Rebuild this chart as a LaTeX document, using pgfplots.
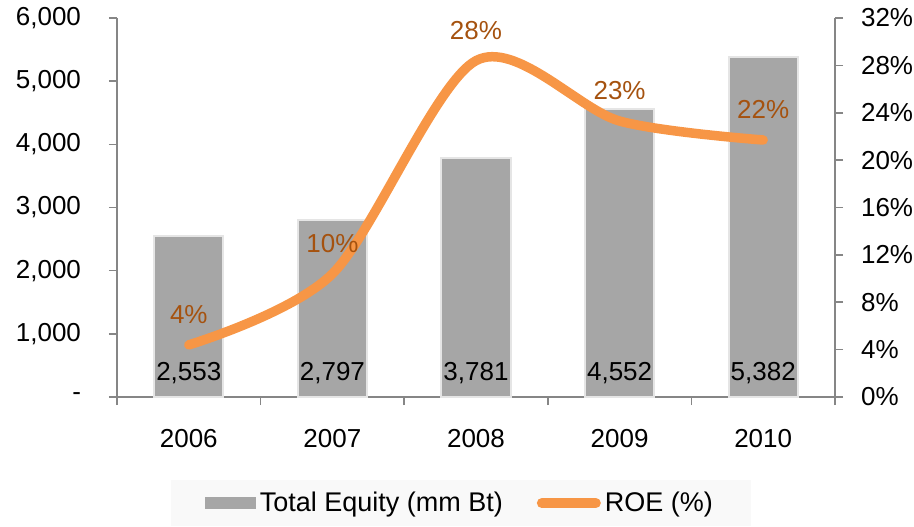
\documentclass[border=0pt]{standalone}
\usepackage{fontspec}
\setmainfont{Liberation Sans}
\usepackage{pgfplots}
\usepackage{pgfplotstable}
\pgfplotsset{compat=1.18}
\definecolor{barGray}{HTML}{A6A6A6}
\definecolor{roeOrange}{HTML}{F79646}
\definecolor{lblBrown}{HTML}{A5520F}
\definecolor{axGray}{HTML}{868686}
\definecolor{legFill}{HTML}{F9F9F9}

\pgfplotstableread{
x equity roe
0 2553 4.4
1 2797 10.4
2 3781 28.4
3 4552 23.3
4 5382 21.7
}\datatable

\newcommand{\chartfont}{\fontsize{13}{15.6}\selectfont}
\newcommand{\legfont}{\fontsize{13.5}{16}\selectfont}

\begin{document}
\begin{tikzpicture}
\useasboundingbox (0,0) rectangle (457pt,263pt);
\pgfplotsset{
  base/.style={
    scale only axis, width=359pt, height=189.5pt,
    at={(58.5pt,64.5pt)}, anchor=south west,
    xmin=-0.5, xmax=4.5,
    tick align=outside,
    axis line style={axGray, line width=0.8pt},
    every tick/.style={axGray, line width=0.8pt},
    major tick length=4pt,
    tick label style={font=\chartfont, black},
    /pgf/number format/assume math mode=true,
  }
}
\begin{axis}[base,
  axis x line*=bottom, axis y line*=left,
  ymin=0, ymax=6000,
  ytick={0,1000,2000,3000,4000,5000,6000},
  yticklabels={-,{1,000},{2,000},{3,000},{4,000},{5,000},{6,000}},
  yticklabel style={xshift=-10.5pt},
  xtick={-0.5,0.5,1.5,2.5,3.5,4.5},
  xticklabels={2006,2007,2008,2009,2010},
  xticklabel style={yshift=-8.5pt},
  x tick label as interval,
]
\addplot[ybar, bar width=34.5pt, fill=barGray, draw=black!10, line width=1pt]
  table[x=x, y=equity]{\datatable};
\addplot[draw=none, mark=none,
  nodes near coords={\pgfmathprintnumber[fixed, precision=0, 1000 sep={,}]{\pgfplotspointmeta}},
  point meta=explicit,
  every node near coord/.style={anchor=base, yshift=8.5pt, font=\chartfont, text=black}]
  table[x=x, y expr=0, meta=equity]{\datatable};
\end{axis}
\begin{axis}[base,
  axis y line*=right, axis x line=none,
  ymin=0, ymax=32,
  ytick={0,4,...,32},
  yticklabel={\pgfmathprintnumber{\tick}\%},
  yticklabel style={xshift=5.5pt},
  legend columns=2,
  legend style={at={(0.479,-0.28)}, anchor=center, fill=legFill, draw=none,
    font=\legfont, inner xsep=17pt, inner ysep=4pt,
    /tikz/every even column/.append style={column sep=15pt}},
]
\addlegendimage{legend image code/.code={\fill[barGray] (0pt,-2.75pt) rectangle (25pt,2.75pt);}}
\addlegendentry{Total Equity (mm Bt)}
\addplot[roeOrange, line width=4.75pt, smooth, line cap=round,
  legend image code/.code={\draw[roeOrange, line width=5pt, line cap=round] (2pt,0pt) -- (29pt,0pt);},
  nodes near coords={\pgfmathprintnumber[fixed, precision=0]{\pgfplotspointmeta}\%},
  point meta=y,
  every node near coord/.style={anchor=center, yshift=15pt, text=lblBrown, font=\chartfont}]
  table[x=x, y=roe]{\datatable};
\addlegendentry{ROE (\%)}
\end{axis}
\end{tikzpicture}
\end{document}
